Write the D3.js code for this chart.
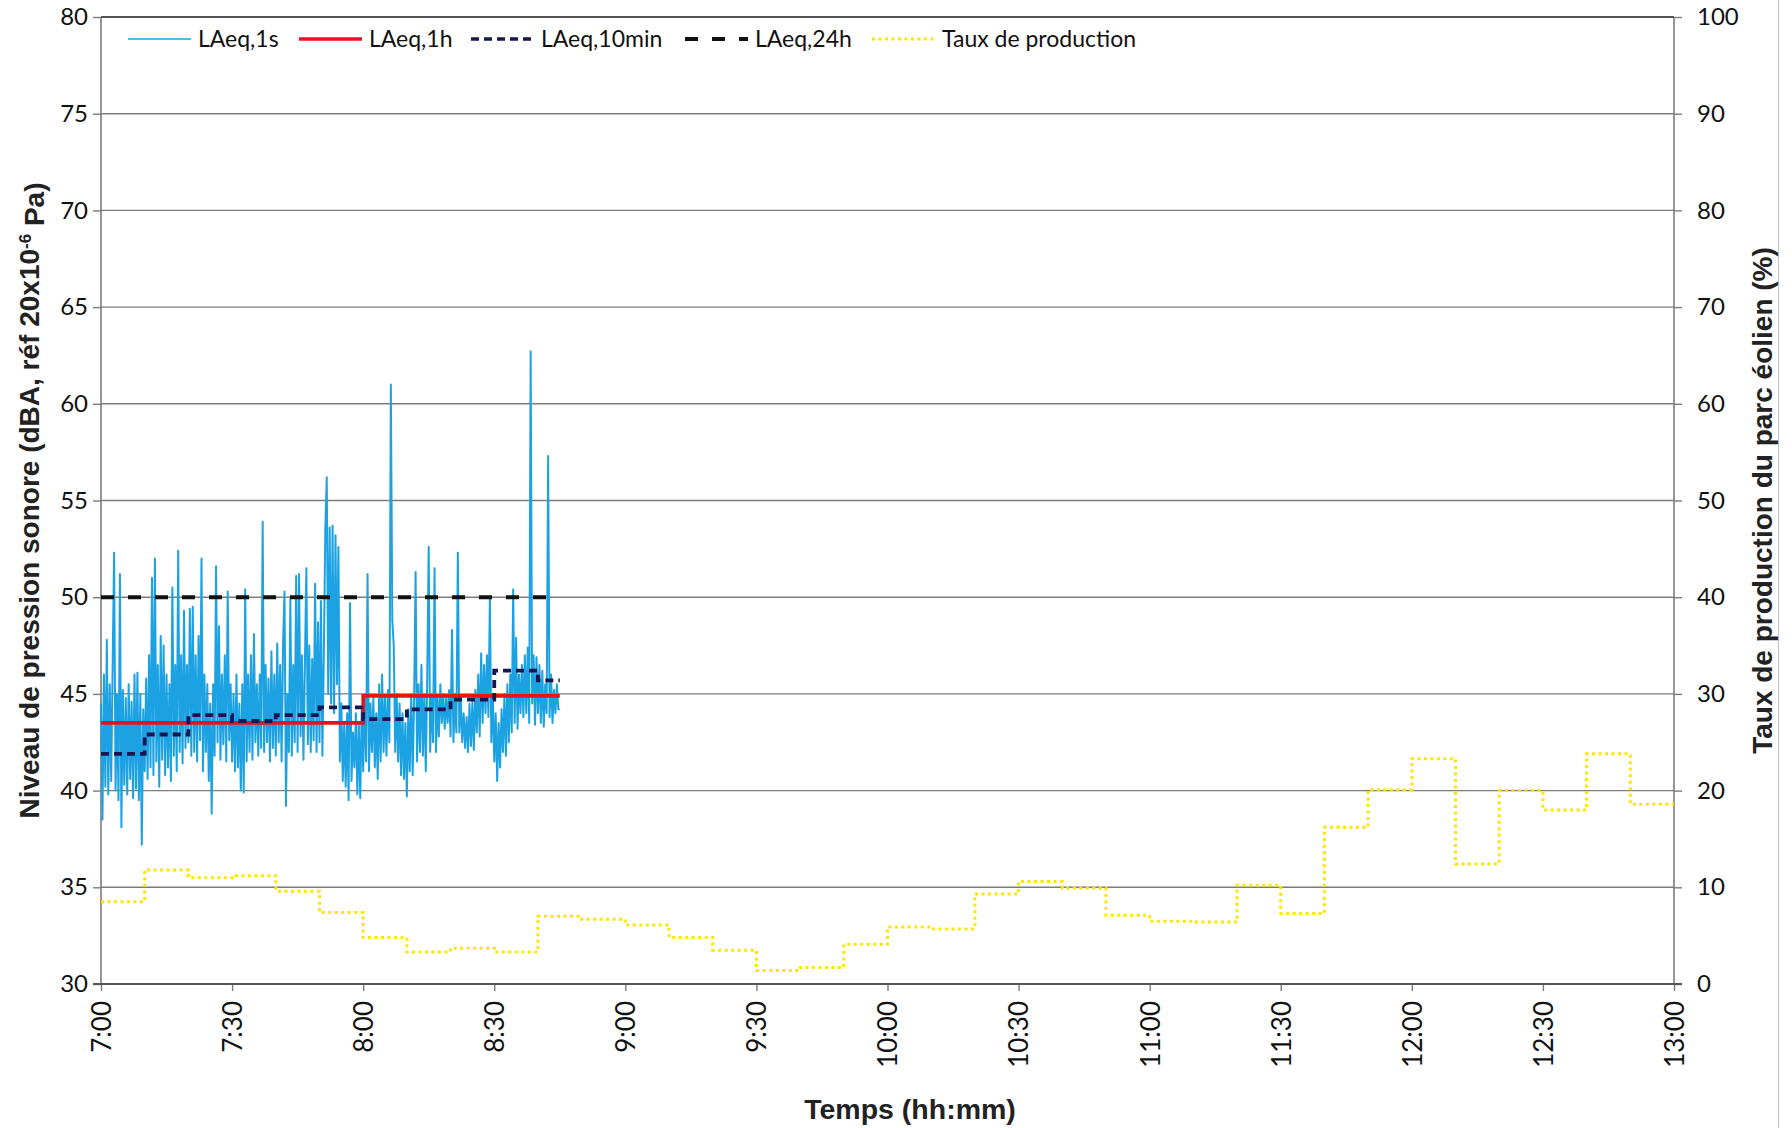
<!DOCTYPE html>
<html>
<head>
<meta charset="utf-8">
<script src="https://cdn.jsdelivr.net/npm/d3@7"></script>
<style>
  html, body { margin: 0; padding: 0; background: #ffffff; }
  svg { display: block; }
</style>
</head>
<body>
<svg id="chart" width="1792" height="1128"></svg>
<script>
// ---- Axis ticks ----
const xTickMinutes = [0, 30, 60, 90, 120, 150, 180, 210, 240, 270, 300, 330, 360]; // minutes after 7:00
const xTickLabels = ["7:00", "7:30", "8:00", "8:30", "9:00", "9:30", "10:00", "10:30", "11:00", "11:30", "12:00", "12:30", "13:00"];
const leftTicks = [30, 35, 40, 45, 50, 55, 60, 65, 70, 75, 80];
const rightTicks = [0, 10, 20, 30, 40, 50, 60, 70, 80, 90, 100];

// ---- Legend ----
const seriesNames = ["LAeq,1s", "LAeq,1h", "LAeq,10min", "LAeq,24h", "Taux de production"];

// ---- Sound level series (dBA) ----
const measureEnd = 105;                  // measurement stops at 8:45
const laeq1sStepSeconds = 20;            // one sample every 20 s
const laeq1s = [
  44.5, 38.5, 46.0,  40.2, 47.8, 39.8,  45.5, 40.5, 46.5,  52.3, 40.0, 45.0,  39.5, 51.2, 38.1,
  45.2, 40.3, 44.8,  39.8, 45.5, 40.6,  44.6, 39.6, 46.0,  40.1, 46.1, 39.5,  45.0, 37.2, 44.2,
  41.0, 45.8, 40.6,  47.0, 41.2, 51.0,  40.8, 52.0, 41.5,  46.5, 40.2, 48.0,  41.6, 47.5, 40.8,
  46.0, 41.2, 45.5,  40.5, 50.5, 41.8,  46.5, 41.0, 52.4,  42.0, 47.0, 41.4,  49.3, 42.2, 46.5,
  42.5, 49.4, 41.8,  49.5, 42.0, 47.0,  41.5, 48.0, 42.6,  52.0, 41.0, 46.0,  42.0, 45.5, 40.5,
  44.5, 38.8, 45.5,  41.8, 51.6, 42.5,  48.5, 41.6, 46.0,  42.4, 47.0, 41.5,  50.3, 42.6, 45.5,
  41.5, 45.0, 41.0,  46.0, 41.2, 44.5,  40.0, 45.5, 39.9,  50.4, 41.5, 46.0,  42.0, 47.0, 41.6,
  48.1, 42.5, 45.5,  41.8, 46.0, 42.2,  53.9, 42.0, 46.5,  42.5, 45.8, 41.5,  47.2, 42.2, 46.0,
  41.8, 47.6, 42.5,  46.5, 41.5, 47.6,  50.3, 39.2, 45.0,  42.0, 49.9, 41.8,  46.5, 42.5, 51.1,
  42.0, 51.2, 42.8,  47.0, 41.6, 46.5,  51.5, 42.4, 47.5,  42.0, 46.8, 42.6,  50.7, 42.0, 48.7,
  42.5, 49.8, 41.8,  47.0, 53.5, 56.2,  45.0, 53.6, 44.5,  53.7, 44.0, 53.2,  45.5, 52.6, 41.5,
  44.5, 40.5, 43.5,  40.2, 44.0, 39.5,  49.7, 40.5, 43.0,  41.2, 44.0, 39.8,  43.5, 39.6, 44.2,
  41.0, 45.0, 41.5,  51.2, 41.0, 44.5,  42.0, 44.8, 41.2,  44.0, 40.6, 45.5,  41.5, 46.0, 42.0,
  44.8, 41.8, 45.2,  42.5, 61.0, 48.8,  47.5, 42.0, 45.0,  41.5, 44.5, 40.8,  44.0, 40.6, 43.5,
  39.7, 44.2, 41.0,  45.0, 40.8, 44.8,  51.3, 41.5, 45.5,  42.0, 46.5, 41.8,  45.0, 41.0, 46.0,
  52.6, 42.0, 45.0,  42.5, 51.5, 42.0,  44.8, 42.8, 45.5,  43.5, 45.0, 43.2,  44.8, 43.5, 45.2,
  42.8, 48.3, 42.5,  45.0, 43.0, 52.3,  43.0, 44.8, 42.5,  44.0, 42.2, 43.8,  42.0, 44.5, 42.3,
  44.6, 42.1, 45.2,  43.0, 46.0, 42.8,  47.1, 43.5, 46.5,  44.0, 47.0, 43.8,  49.9, 42.5, 45.0,
  41.5, 44.0, 40.5,  43.5, 41.2, 44.2,  42.0, 45.0, 41.8,  45.5, 42.5, 46.0,  43.0, 50.4, 43.5,
  47.9, 43.2, 46.0,  44.0, 46.5, 43.8,  47.0, 44.0, 47.4,  43.5, 62.7, 44.5,  47.0, 43.4, 46.9,
  44.0, 46.5, 43.5,  46.2, 43.3, 45.5,  44.0, 57.3, 43.8,  46.0, 43.5, 45.2,  44.0, 45.5, 44.2
];
const laeq1hStart = [0, 60];
const laeq1h = [43.5, 44.9];
const laeq10minStart = [0, 10, 20, 30, 40, 50, 60, 70, 80, 90, 100];
const laeq10min = [41.9, 42.9, 43.9, 43.6, 43.9, 44.3, 43.7, 44.2, 44.7, 46.2, 45.7];
const laeq24hStart = [0];
const laeq24h = [50.0];

// ---- Wind farm production (%), 10-minute steps from 7:00 to 13:00 ----
const productionStart = [0, 10, 20, 30, 40, 50, 60, 70, 80, 90, 100, 110, 120, 130, 140, 150, 160, 170,
  180, 190, 200, 210, 220, 230, 240, 250, 260, 270, 280, 290, 300, 310, 320, 330, 340, 350];
const production = [8.5, 11.8, 11.0, 11.2, 9.6, 7.4, 4.8, 3.3, 3.7, 3.3, 7.0, 6.7,
  6.1, 4.8, 3.5, 1.4, 1.7, 4.1, 5.9, 5.7, 9.3, 10.6, 9.9, 7.1,
  6.5, 6.4, 10.2, 7.3, 16.2, 20.1, 23.3, 12.4, 20.0, 18.0, 23.8, 18.6];
const productionEnd = 360;

// ---- Layout ----
const svg = d3.select("#chart");
const plot = { left: 101, right: 1674, top: 17, bottom: 984 };
const tickFont = "Lato, 'Open Sans', sans-serif";
const titleFont = "'Liberation Sans', Arial, sans-serif";

const x = d3.scaleLinear().domain([0, 360]).range([plot.left, plot.right]);
const yL = d3.scaleLinear().domain([30, 80]).range([plot.bottom, plot.top]);
const yR = d3.scaleLinear().domain([0, 100]).range([plot.bottom, plot.top]);

const colors = {
  s1: "#1ca2e3",
  h1: "#e3141f",
  m10: "#161650",
  h24: "#111111",
  prod: "#ffe500"
};

// page edge line on the far right
svg.append("line")
  .attr("x1", 1778.5).attr("x2", 1778.5).attr("y1", 0).attr("y2", 1128)
  .attr("stroke", "#c8c8c8").attr("stroke-width", 1.2);

// horizontal gridlines
svg.append("g").selectAll("line")
  .data(leftTicks.filter(t => t !== 30 && t !== 80))
  .join("line")
  .attr("x1", plot.left).attr("x2", plot.right)
  .attr("y1", d => yL(d)).attr("y2", d => yL(d))
  .attr("stroke", "#7c7c7c").attr("stroke-width", 1.4);

// ---- Axes ----
function styleAxis(g) {
  g.select(".domain").remove();
  g.selectAll(".tick line").attr("stroke", "#7c7c7c").attr("stroke-width", 1.4);
  g.selectAll(".tick text").attr("fill", "#111").style("font-family", tickFont).style("font-size", "24px");
}

svg.append("g")
  .attr("transform", `translate(${plot.left},0)`)
  .call(d3.axisLeft(yL).tickValues(leftTicks).tickSize(8).tickPadding(5).tickFormat(d3.format("d")))
  .call(styleAxis);

svg.append("g")
  .attr("transform", `translate(${plot.right},0)`)
  .call(d3.axisRight(yR).tickValues(rightTicks).tickSize(8).tickPadding(15).tickFormat(d3.format("d")))
  .call(styleAxis);

const bottomAxis = svg.append("g")
  .attr("transform", `translate(0,${plot.bottom})`)
  .call(d3.axisBottom(x).tickValues(xTickMinutes).tickSize(7).tickFormat((d, i) => xTickLabels[i]))
  .call(styleAxis);
bottomAxis.selectAll(".tick text")
  .attr("transform", "rotate(-90)")
  .attr("text-anchor", "end")
  .attr("x", -17).attr("y", 0).attr("dy", "0.36em")
  .style("font-size", "26px");

// frame: left/right axis lines, top and bottom lines
svg.append("line").attr("x1", plot.left).attr("x2", plot.left).attr("y1", plot.top).attr("y2", plot.bottom)
  .attr("stroke", "#7c7c7c").attr("stroke-width", 1.6);
svg.append("line").attr("x1", plot.right).attr("x2", plot.right).attr("y1", plot.top).attr("y2", plot.bottom)
  .attr("stroke", "#7c7c7c").attr("stroke-width", 1.6);
svg.append("line").attr("x1", plot.left).attr("x2", plot.right).attr("y1", yL(80)).attr("y2", yL(80))
  .attr("stroke", "#555").attr("stroke-width", 2);
svg.append("line").attr("x1", plot.left - 8).attr("x2", plot.right + 8).attr("y1", yL(30)).attr("y2", yL(30))
  .attr("stroke", "#555").attr("stroke-width", 2.2);

// ---- Series ----
function steps(starts, values, end) {
  const pts = starts.map((s, i) => ({ t: s, v: values[i] }));
  pts.push({ t: end, v: values[values.length - 1] });
  return pts;
}

const stepLine = (yScale) => d3.line().curve(d3.curveStepAfter).x(d => x(d.t)).y(d => yScale(d.v));

// production (secondary axis)
svg.append("path")
  .datum(steps(productionStart, production, productionEnd))
  .attr("d", stepLine(yR))
  .attr("fill", "none").attr("stroke", colors.prod).attr("stroke-width", 3)
  .attr("stroke-dasharray", "3,3.5");

// 1-second levels
const s1Points = laeq1s.map((v, i) => ({ t: i * laeq1sStepSeconds / 60, v }));
s1Points.push({ t: measureEnd, v: laeq1s[laeq1s.length - 1] });
svg.append("path")
  .datum(s1Points)
  .attr("d", d3.line().x(d => x(d.t)).y(d => yL(d.v)))
  .attr("fill", "none").attr("stroke", colors.s1).attr("stroke-width", 2)
  .attr("stroke-linejoin", "round");

// hourly
svg.append("path")
  .datum(steps(laeq1hStart, laeq1h, measureEnd))
  .attr("d", stepLine(yL))
  .attr("fill", "none").attr("stroke", colors.h1).attr("stroke-width", 3.6);

// 10 minutes
svg.append("path")
  .datum(steps(laeq10minStart, laeq10min, measureEnd))
  .attr("d", stepLine(yL))
  .attr("fill", "none").attr("stroke", colors.m10).attr("stroke-width", 3.8)
  .attr("stroke-dasharray", "8,5");

// 24 hours
svg.append("path")
  .datum(steps(laeq24hStart, laeq24h, measureEnd))
  .attr("d", stepLine(yL))
  .attr("fill", "none").attr("stroke", colors.h24).attr("stroke-width", 4)
  .attr("stroke-dasharray", "13,14");

// ---- Legend ----
const legendItems = [
  { name: seriesNames[0], color: colors.s1, width: 1.6, dash: null, x0: 128 },
  { name: seriesNames[1], color: colors.h1, width: 3.6, dash: null, x0: 299 },
  { name: seriesNames[2], color: colors.m10, width: 3.6, dash: "8,5", x0: 471 },
  { name: seriesNames[3], color: colors.h24, width: 4, dash: "13,14", x0: 685 },
  { name: seriesNames[4], color: colors.prod, width: 3, dash: "3,3.5", x0: 872 }
];
const legend = svg.append("g").attr("transform", "translate(0,39)");
const li = legend.selectAll("g").data(legendItems).join("g")
  .attr("transform", d => `translate(${d.x0},0)`);
li.append("line").attr("x1", 0).attr("x2", 63).attr("y1", 0).attr("y2", 0)
  .attr("stroke", d => d.color).attr("stroke-width", d => d.width)
  .attr("stroke-dasharray", d => d.dash);
li.append("text").attr("x", 70).attr("y", 0).attr("dy", "0.36em")
  .style("font-family", tickFont).style("font-size", "23px").attr("fill", "#111")
  .text(d => d.name);

// ---- Axis titles ----
const leftTitle = svg.append("text")
  .attr("transform", `translate(39,${(plot.top + plot.bottom) / 2}) rotate(-90)`)
  .attr("text-anchor", "middle")
  .style("font-family", titleFont).style("font-size", "28px").style("font-weight", "bold").attr("fill", "#222");
leftTitle.append("tspan").text("Niveau de pression sonore (dBA, réf 20x10");
leftTitle.append("tspan").attr("dy", "-0.45em").style("font-size", "17px").text("-6");
leftTitle.append("tspan").attr("dy", "0.45em").text(" Pa)");

svg.append("text")
  .attr("transform", `translate(1772,${(plot.top + plot.bottom) / 2}) rotate(-90)`)
  .attr("text-anchor", "middle")
  .style("font-family", titleFont).style("font-size", "28px").style("font-weight", "bold").attr("fill", "#222")
  .text("Taux de production du parc éolien (%)");

svg.append("text")
  .attr("x", 910).attr("y", 1119)
  .attr("text-anchor", "middle")
  .style("font-family", titleFont).style("font-size", "28.5px").style("font-weight", "bold").attr("fill", "#222")
  .text("Temps (hh:mm)");
</script>
</body>
</html>
